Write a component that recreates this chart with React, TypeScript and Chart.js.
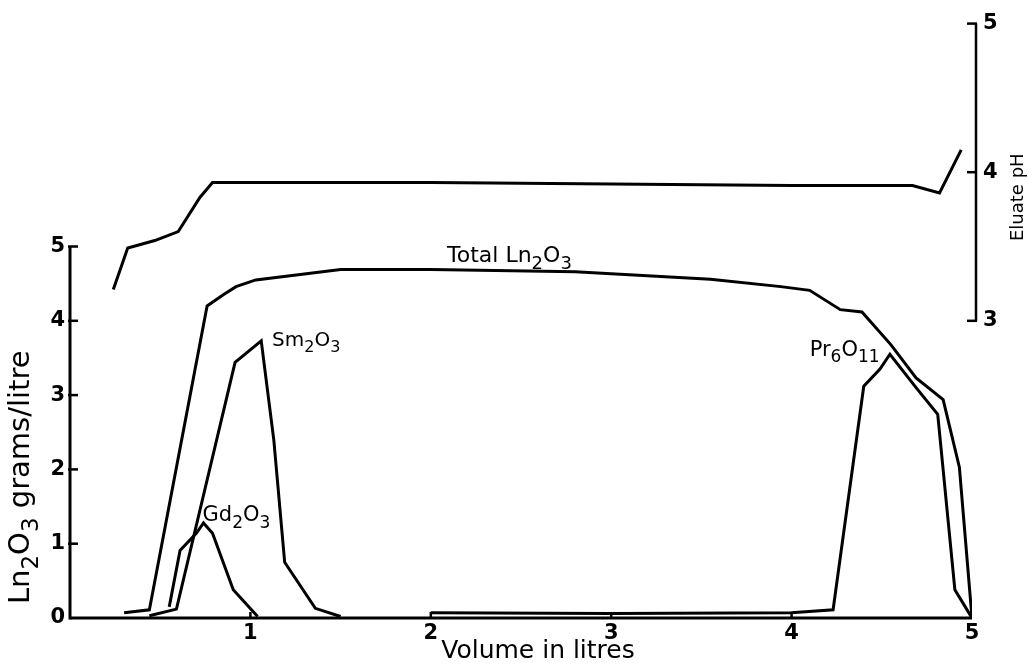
import React, { useEffect, useRef } from "react";
import { Chart, registerables } from "chart.js";

Chart.register(...registerables);

// ---- Data ----
const totalVolume = [0.3, 0.44, 0.76, 0.85, 0.92, 1.03, 1.5, 2.0, 2.8, 3.55, 3.94, 4.1, 4.27, 4.39, 4.55, 4.69, 4.84, 4.93, 5.0];
const totalLn2O3 = [0.07, 0.11, 4.2, 4.35, 4.46, 4.55, 4.69, 4.69, 4.66, 4.56, 4.46, 4.41, 4.15, 4.12, 3.68, 3.23, 2.94, 2.03, 0.0];

const smVolume = [0.44, 0.59, 0.915, 1.06, 1.13, 1.19, 1.36, 1.5];
const smValues = [0.03, 0.12, 3.44, 3.73, 2.39, 0.75, 0.13, 0.02];

const gdVolume = [0.55, 0.61, 0.7, 0.74, 0.79, 0.905, 1.04];
const gdValues = [0.15, 0.91, 1.14, 1.28, 1.14, 0.38, 0.02];

const prVolume = [2.0, 3.0, 4.0, 4.23, 4.4, 4.49, 4.545, 4.69, 4.81, 4.905, 5.0];
const prValues = [0.07, 0.06, 0.07, 0.11, 3.12, 3.35, 3.55, 3.1, 2.74, 0.38, 0.0];

const phVolume = [0.24, 0.32, 0.47, 0.6, 0.72, 0.79, 2.0, 3.0, 4.0, 4.67, 4.82, 4.94];
const phValues = [3.21, 3.49, 3.54, 3.6, 3.83, 3.93, 3.93, 3.92, 3.91, 3.91, 3.86, 4.15];

const xTickValues = [1, 2, 3, 4, 5];
const leftTickValues = [0, 1, 2, 3, 4, 5];
const rightTickValues = [3, 4, 5];

type Seg = [string, boolean];

const xTitle: Seg[] = [["Volume in litres", false]];
const leftTitle: Seg[] = [["Ln", false], ["2", true], ["O", false], ["3", true], [" grams/litre", false]];
const rightTitle: Seg[] = [["Eluate pH", false]];

const seriesLabels: { segs: Seg[]; x: number; y: number; size: number }[] = [
  { segs: [["Total Ln", false], ["2", true], ["O", false], ["3", true]], x: 2.09, y: 4.79, size: 22 },
  { segs: [["Sm", false], ["2", true], ["O", false], ["3", true]], x: 1.12, y: 3.66, size: 20 },
  { segs: [["Gd", false], ["2", true], ["O", false], ["3", true]], x: 0.735, y: 1.3, size: 21 },
  { segs: [["Pr", false], ["6", true], ["O", false], ["11", true]], x: 4.1, y: 3.53, size: 21 },
];

const FAMILY = "'DejaVu Sans', sans-serif";

function pts(xs: number[], ys: number[]) {
  return xs.map((x, i) => ({ x, y: ys[i] }));
}

function segFont(size: number, sub: boolean) {
  return `${sub ? Math.round(size * 0.8) : size}px ${FAMILY}`;
}

function richWidth(ctx: CanvasRenderingContext2D, segs: Seg[], size: number) {
  let w = 0;
  for (const [t, sub] of segs) {
    ctx.font = segFont(size, sub);
    w += ctx.measureText(t).width;
  }
  return w;
}

function drawRich(ctx: CanvasRenderingContext2D, segs: Seg[], x: number, y: number, size: number) {
  let cx = x;
  ctx.textBaseline = "alphabetic";
  ctx.textAlign = "left";
  for (const [t, sub] of segs) {
    ctx.font = segFont(size, sub);
    ctx.fillText(t, cx, sub ? y + size * 0.3 : y);
    cx += ctx.measureText(t).width;
  }
}

const decorPlugin = {
  id: "decor",
  afterDraw(chart: any) {
    const ctx: CanvasRenderingContext2D = chart.ctx;
    const xs = chart.scales.x;
    const ys = chart.scales.y;
    const y1 = chart.scales.y1;
    const area = chart.chartArea;
    ctx.save();
    ctx.strokeStyle = "#000";
    ctx.fillStyle = "#000";
    ctx.lineWidth = 3;
    ctx.lineCap = "butt";

    const y0 = ys.getPixelForValue(0);
    // x axis
    ctx.beginPath();
    ctx.moveTo(area.left, y0);
    ctx.lineTo(xs.getPixelForValue(5), y0);
    ctx.stroke();
    ctx.lineWidth = 2.5;
    for (const v of xTickValues.slice(0, -1)) {
      const px = xs.getPixelForValue(v);
      ctx.beginPath();
      ctx.moveTo(px, y0);
      ctx.lineTo(px, y0 - 6);
      ctx.stroke();
    }
    // left axis
    ctx.lineWidth = 3;
    ctx.beginPath();
    ctx.moveTo(area.left, y0 + 1.5);
    ctx.lineTo(area.left, ys.getPixelForValue(5));
    ctx.stroke();
    ctx.lineWidth = 2.5;
    for (const v of leftTickValues.slice(1)) {
      const py = ys.getPixelForValue(v);
      ctx.beginPath();
      ctx.moveTo(area.left - 2, py);
      ctx.lineTo(area.left + 8, py);
      ctx.stroke();
    }
    // right axis
    const rx = area.right + 4;
    ctx.lineWidth = 2.5;
    ctx.beginPath();
    ctx.moveTo(rx, y1.getPixelForValue(3));
    ctx.lineTo(rx, y1.getPixelForValue(5));
    ctx.stroke();
    for (const v of rightTickValues) {
      const py = y1.getPixelForValue(v);
      ctx.beginPath();
      ctx.moveTo(rx - 9, py);
      ctx.lineTo(rx + 1, py);
      ctx.stroke();
    }

    // series labels
    for (const lab of seriesLabels) {
      drawRich(ctx, lab.segs, xs.getPixelForValue(lab.x), ys.getPixelForValue(lab.y), lab.size);
    }

    // x title
    {
      const size = 25;
      const w = richWidth(ctx, xTitle, size);
      const cx = (area.left + area.right) / 2 + 17;
      drawRich(ctx, xTitle, cx - w / 2, area.bottom + 40, size);
    }
    // left title
    {
      const size = 29;
      const w = richWidth(ctx, leftTitle, size);
      const cy = (ys.getPixelForValue(0) + ys.getPixelForValue(5)) / 2 + 45;
      ctx.save();
      ctx.translate(area.left - 41, cy);
      ctx.rotate(-Math.PI / 2);
      drawRich(ctx, leftTitle, -w / 2, 0, size);
      ctx.restore();
    }
    // right title
    {
      const size = 18;
      const w = richWidth(ctx, rightTitle, size);
      const cy = (y1.getPixelForValue(3) + y1.getPixelForValue(5)) / 2 + 25;
      ctx.save();
      ctx.translate(area.right + 51, cy);
      ctx.rotate(-Math.PI / 2);
      drawRich(ctx, rightTitle, -w / 2, 0, size);
      ctx.restore();
    }
    ctx.restore();
  },
};

export default function App() {
  const canvasRef = useRef<HTMLCanvasElement | null>(null);

  useEffect(() => {
    document.body.style.margin = "0";
    const canvas = canvasRef.current;
    if (!canvas) return;
    const line = (data: { x: number; y: number }[], axis: string) => ({
      data,
      yAxisID: axis,
      borderColor: "#000",
      borderWidth: 3,
      pointRadius: 0,
      tension: 0,
      fill: false,
    });
    const tickFont = { family: FAMILY, size: 21, weight: "bold" as const };
    const chart = new Chart(canvas, {
      type: "line",
      data: {
        datasets: [
          { label: "Total Ln2O3", ...line(pts(totalVolume, totalLn2O3), "y") },
          { label: "Sm2O3", ...line(pts(smVolume, smValues), "y") },
          { label: "Gd2O3", ...line(pts(gdVolume, gdValues), "y") },
          { label: "Pr6O11", ...line(pts(prVolume, prValues), "y") },
          { label: "Eluate pH", ...line(pts(phVolume, phValues), "y1") },
        ],
      },
      options: {
        responsive: false,
        animation: false,
        layout: { padding: { top: 21, left: 0, right: 0, bottom: 0 } },
        plugins: { legend: { display: false }, tooltip: { enabled: false } },
        scales: {
          x: {
            type: "linear",
            min: 0,
            max: 5,
            grid: { display: false, drawTicks: false },
            border: { display: false },
            afterBuildTicks: (s: any) => {
              s.ticks = xTickValues.map((v) => ({ value: v }));
            },
            afterFit: (s: any) => {
              s.height = 47;
            },
            ticks: { font: tickFont, color: "#000", padding: 3, maxRotation: 0, autoSkip: false },
          },
          y: {
            type: "linear",
            position: "left",
            min: 0,
            max: 8,
            grid: { display: false, drawTicks: false },
            border: { display: false },
            afterBuildTicks: (s: any) => {
              s.ticks = leftTickValues.map((v) => ({ value: v }));
            },
            afterFit: (s: any) => {
              s.width = 70;
            },
            ticks: { font: tickFont, color: "#000", padding: 5, autoSkip: false },
          },
          y1: {
            type: "linear",
            position: "right",
            min: 1,
            max: 5,
            grid: { display: false, drawTicks: false },
            border: { display: false },
            afterBuildTicks: (s: any) => {
              s.ticks = rightTickValues.map((v) => ({ value: v }));
            },
            afterFit: (s: any) => {
              s.width = 56;
            },
            ticks: { font: tickFont, color: "#000", padding: 11, autoSkip: false },
          },
        },
      },
      plugins: [decorPlugin],
    });
    return () => chart.destroy();
  }, []);

  return (
    <div style={{ width: 1028, height: 665, position: "relative", background: "#fff" }}>
      <canvas ref={canvasRef} width={1028} height={665} style={{ width: 1028, height: 665, display: "block" }} />
    </div>
  );
}
